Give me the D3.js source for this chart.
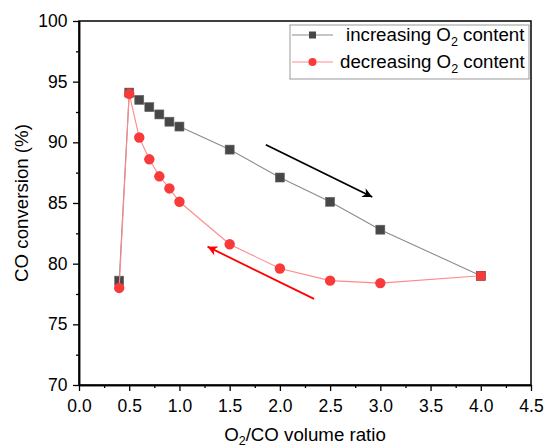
<!DOCTYPE html>
<html>
<head>
<meta charset="utf-8">
<script src="https://cdn.jsdelivr.net/npm/d3@7"></script>
<style>
  html, body { margin: 0; padding: 0; background: #fff; }
  svg { display: block; }
  text { font-family: "Liberation Sans", Arial, sans-serif; fill: #000; }
</style>
</head>
<body>
<svg id="chart" width="545" height="447"></svg>
<script>
// O2/CO volume ratios and CO conversion (%) for both sweep directions
const ratios = [0.4, 0.5, 0.6, 0.7, 0.8, 0.9, 1.0, 1.5, 2.0, 2.5, 3.0, 4.0];
const increasingO2 = [78.6, 94.1, 93.5, 92.9, 92.3, 91.7, 91.3, 89.4, 87.1, 85.1, 82.8, 79.0];
const decreasingO2 = [78.0, 94.0, 90.4, 88.6, 87.2, 86.2, 85.1, 81.6, 79.6, 78.6, 78.4, 79.0];
const xTicks = [0.0, 0.5, 1.0, 1.5, 2.0, 2.5, 3.0, 3.5, 4.0, 4.5];
const yTicks = [70, 75, 80, 85, 90, 95, 100];
// direction arrows, in data units: [x1, y1, x2, y2]
const arrowUp = [1.86, 89.8, 2.92, 85.5];
const arrowDown = [2.34, 77.1, 1.28, 81.4];

const svg = d3.select("#chart");
const plotL = 79, plotR = 531, plotT = 21, plotB = 385;
const titleFont = "18.7px", tickFont = "17.5px", subFont = "12.5px";

const x = d3.scaleLinear().domain([0, 4.5]).range([plotL, plotR]);
const y = d3.scaleLinear().domain([70, 100]).range([plotB, plotT]);

// frame
svg.append("rect")
  .attr("x", plotL).attr("y", plotT)
  .attr("width", plotR - plotL).attr("height", plotB - plotT)
  .attr("fill", "none").attr("stroke", "#000").attr("stroke-width", 1.5);

// x axis
const xAxis = svg.append("g").attr("transform", `translate(0,${plotB})`)
  .call(d3.axisBottom(x).tickValues(xTicks).tickFormat(d3.format(".1f")).tickSize(6).tickSizeOuter(0));
const xMinor = svg.append("g").attr("transform", `translate(0,${plotB})`)
  .call(d3.axisBottom(x).tickValues(xTicks.slice(0, -1).map(d => d + 0.25)).tickFormat("").tickSize(3).tickSizeOuter(0));

// y axis
const yAxis = svg.append("g").attr("transform", `translate(${plotL},0)`)
  .call(d3.axisLeft(y).tickValues(yTicks).tickSize(6).tickSizeOuter(0));
const yMinor = svg.append("g").attr("transform", `translate(${plotL},0)`)
  .call(d3.axisLeft(y).tickValues(yTicks.slice(0, -1).map(d => d + 2.5)).tickFormat("").tickSize(3).tickSizeOuter(0));

[xAxis, xMinor, yAxis, yMinor].forEach(g => {
  g.select(".domain").attr("stroke", "#000").attr("stroke-width", 1.5);
  g.selectAll(".tick line").attr("stroke", "#000").attr("stroke-width", 1.3);
  g.selectAll("text").style("font-family", "Liberation Sans, Arial, sans-serif").style("font-size", tickFont).attr("fill", "#000");
});
xAxis.selectAll("text").attr("dy", "1.05em");
yAxis.selectAll("text").attr("dx", "-0.15em");

// axis titles
const xt = svg.append("text")
  .attr("x", (plotL + plotR) / 2).attr("y", 441)
  .attr("text-anchor", "middle").style("font-size", titleFont);
xt.append("tspan").text("O");
xt.append("tspan").text("2").attr("dy", 4).style("font-size", subFont);
xt.append("tspan").text("/CO volume ratio").attr("dy", -4);

svg.append("text")
  .attr("transform", `translate(28,${(plotT + plotB) / 2}) rotate(-90)`)
  .attr("text-anchor", "middle").style("font-size", titleFont)
  .text("CO conversion (%)");

// series
const lineGen = d3.line().x(d => x(d[0])).y(d => y(d[1]));
const blackPts = ratios.map((r, i) => [r, increasingO2[i]]);
const redPts = ratios.map((r, i) => [r, decreasingO2[i]]);

svg.append("path").datum(blackPts).attr("d", lineGen)
  .attr("fill", "none").attr("stroke", "#8c8c8c").attr("stroke-width", 1.1);
const sq = 9;
svg.selectAll("rect.inc").data(blackPts).enter().append("rect")
  .attr("class", "inc")
  .attr("x", d => x(d[0]) - sq / 2).attr("y", d => y(d[1]) - sq / 2)
  .attr("width", sq).attr("height", sq)
  .attr("fill", "#474747").attr("stroke", "#666").attr("stroke-width", 0.6);

svg.append("path").datum(redPts).attr("d", lineGen)
  .attr("fill", "none").attr("stroke", "#ff8a8a").attr("stroke-width", 1.1);
svg.selectAll("circle.dec").data(redPts.slice(0, -1)).enter().append("circle")
  .attr("class", "dec")
  .attr("cx", d => x(d[0])).attr("cy", d => y(d[1])).attr("r", 5.2)
  .attr("fill", "#f93a3a");
// last point overlaps the square of the other series
svg.selectAll("rect.decEnd").data(redPts.slice(-1)).enter().append("rect")
  .attr("class", "decEnd")
  .attr("x", d => x(d[0]) - sq / 2).attr("y", d => y(d[1]) - sq / 2)
  .attr("width", sq).attr("height", sq)
  .attr("fill", "#f93a3a").attr("stroke", "#b04040").attr("stroke-width", 0.5);

// arrows
const defs = svg.append("defs");
function marker(id, color) {
  defs.append("marker").attr("id", id)
    .attr("viewBox", "0 0 10 10").attr("refX", 10).attr("refY", 5)
    .attr("markerWidth", 7.5).attr("markerHeight", 5.5).attr("orient", "auto")
    .attr("markerUnits", "strokeWidth")
    .append("path").attr("d", "M0,0 L10,5 L0,10 L3,5 Z").attr("fill", color);
}
marker("headBlack", "#000");
marker("headRed", "#f00");
[[arrowUp, "#000", "headBlack"], [arrowDown, "#f00", "headRed"]].forEach(([a, c, m]) => {
  svg.append("line")
    .attr("x1", x(a[0])).attr("y1", y(a[1])).attr("x2", x(a[2])).attr("y2", y(a[3]))
    .attr("stroke", c).attr("stroke-width", 1.8).attr("marker-end", `url(#${m})`);
});

// legend
const lg = svg.append("g");
lg.append("rect").attr("x", 290).attr("y", 25).attr("width", 239).attr("height", 54)
  .attr("fill", "#fff").attr("stroke", "#999").attr("stroke-width", 1);
const rows = [
  { yy: 35, label: "increasing", tx: 346, color: "#8c8c8c", shape: "square" },
  { yy: 62, label: "decreasing", tx: 340, color: "#ff8a8a", shape: "circle" }
];
rows.forEach(r => {
  lg.append("line").attr("x1", 292).attr("x2", 333).attr("y1", r.yy).attr("y2", r.yy)
    .attr("stroke", r.color).attr("stroke-width", 1.1);
  if (r.shape === "square") {
    lg.append("rect").attr("x", 309).attr("y", r.yy - 3.5).attr("width", 7).attr("height", 7).attr("fill", "#474747");
  } else {
    lg.append("circle").attr("cx", 312.5).attr("cy", r.yy).attr("r", 4).attr("fill", "#f93a3a");
  }
  const t = lg.append("text").attr("x", r.tx).attr("y", r.yy + 5.5).style("font-size", titleFont);
  t.append("tspan").text(r.label + " O");
  t.append("tspan").text("2").attr("dy", 5).style("font-size", subFont);
  t.append("tspan").text(" content").attr("dy", -5);
});
</script>
</body>
</html>
